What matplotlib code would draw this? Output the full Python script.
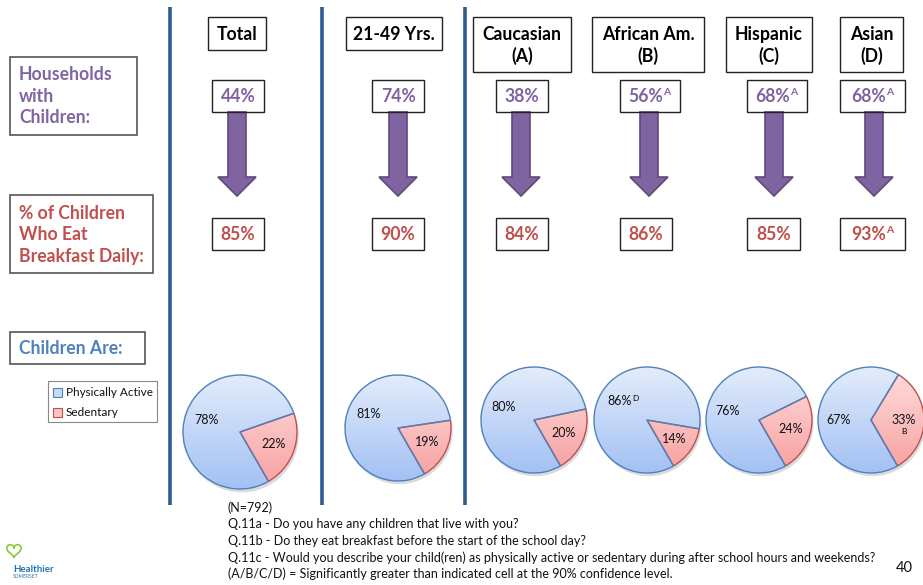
import matplotlib.pyplot as plt
import numpy as np
from matplotlib.patches import Rectangle, Polygon, Circle
from matplotlib.colors import LinearSegmentedColormap

plt.rcParams['font.family'] = ['Lato', 'DejaVu Sans']

# data
groups = ['Total', '21-49 Yrs.', 'Caucasian\n(A)', 'African Am.\n(B)', 'Hispanic\n(C)', 'Asian\n(D)']
households = [44, 74, 38, 56, 68, 68]
households_sig = ['', '', '', 'A', 'A', 'A']
breakfast = [85, 90, 84, 86, 85, 93]
breakfast_sig = ['', '', '', '', '', 'A']
active = [78, 81, 80, 86, 76, 67]
sedentary = [22, 19, 20, 14, 24, 33]
active_sig = ['', '', '', 'D', '', '']
sedentary_sig = ['', '', '', '', '', 'B']
pie_labels = ['Physically Active', 'Sedentary']

# layout (pixels)
head_box = [(208, 266), (346, 442), (473, 571), (592, 704), (726, 812), (840, 903)]
hh_box = [(212, 264), (372, 424), (496, 548), (620, 680), (747, 807), (840, 905)]
bf_box = [(212, 264), (372, 424), (496, 548), (620, 672), (747, 800), (840, 905)]
arrow_x = [237, 398, 521, 649, 774, 874]
pie_c = [(240, 432, 57), (398, 428, 53), (534, 420, 53), (647, 420, 53), (759, 420, 53), (871, 420, 53)]

PURPLE = '#8064A2'
RED = '#C0504D'
BLUE = '#4F81BD'
LINE = '#2F5C8F'
FS = 12.7

fig = plt.figure(figsize=(9.23, 5.85), dpi=100)
ax = fig.add_axes([0, 0, 1, 1])
ax.set_xlim(0, 923)
ax.set_ylim(585, 0)
ax.axis('off')

def box(x0, x1, y0, y1, lw=1.0, ec='#222222'):
    ax.add_patch(Rectangle((x0, y0), x1 - x0, y1 - y0, fill=False, ec=ec, lw=lw, zorder=3))

def boxed_value(x0, x1, y0, y1, txt, sig, color):
    box(x0, x1, y0, y1)
    cx = (x0 + x1) / 2 - (4 if sig else 0)
    t = ax.text(cx, (y0 + y1) / 2 + 1, txt, ha='center', va='center', fontsize=FS,
                fontweight='bold', color=color, zorder=4)
    if sig:
        ax.annotate(sig, xy=(1, 1.05), xycoords=t, ha='left', va='top', fontsize=7.5,
                    fontweight='bold', color=color)

# separators
for x in [170, 322, 465]:
    ax.plot([x, x], [7, 505], color=LINE, lw=2.6, solid_capstyle='butt')

# headers
for g, (x0, x1) in zip(groups, head_box):
    y1 = 72 if '\n' in g else 50
    box(x0, x1, 17, y1)
    ax.text((x0 + x1) / 2, (17 + y1) / 2 + 1, g, ha='center', va='center', fontsize=FS,
            fontweight='bold', color='black', linespacing=1.25)

# row labels
box(10, 137, 57, 135, lw=1.2, ec='#555555')
ax.text(19, 96, 'Households\nwith\nChildren:', ha='left', va='center', fontsize=FS,
        fontweight='bold', color=PURPLE, linespacing=1.3)
box(10, 153, 195, 273, lw=1.2, ec='#555555')
ax.text(19, 235, '% of Children\nWho Eat\nBreakfast Daily:', ha='left', va='center', fontsize=FS,
        fontweight='bold', color=RED, linespacing=1.3)
box(10, 145, 332, 364, lw=1.2, ec='#555555')
ax.text(19, 349, 'Children Are:', ha='left', va='center', fontsize=FS,
        fontweight='bold', color=BLUE)

# value boxes and arrows
for i in range(len(groups)):
    x0, x1 = hh_box[i]
    boxed_value(x0, x1, 80, 112, f'{households[i]}%', households_sig[i], PURPLE)
    x0, x1 = bf_box[i]
    boxed_value(x0, x1, 218, 250, f'{breakfast[i]}%', breakfast_sig[i], RED)
    ax_ = arrow_x[i]
    pts = [(ax_ - 9, 112), (ax_ + 9, 112), (ax_ + 9, 177), (ax_ + 19, 177),
           (ax_, 196), (ax_ - 19, 177), (ax_ - 9, 177)]
    ax.add_patch(Polygon(pts, closed=True, fc=PURPLE, ec='#5F497A', lw=1.2, zorder=2))

# pies
blue_cm = LinearSegmentedColormap.from_list('b', ['#A3C1F4', '#E3ECFB'])
red_cm = LinearSegmentedColormap.from_list('r', ['#F7A0A0', '#FFDEDE'])
grad = np.linspace(0, 1, 200).reshape(-1, 1)
for i, (cx, cy, r) in enumerate(pie_c):
    pad = 1.15
    pax = fig.add_axes([(cx - r * pad) / 923, 1 - (cy + r * pad) / 585,
                        2 * r * pad / 923, 2 * r * pad / 585])
    pax.add_patch(Circle((0.03, -0.06), 1.0, color='#999999', alpha=0.35, lw=0, zorder=0))
    wedges, _, autot = pax.pie([sedentary[i], active[i]], startangle=-60, counterclock=True,
                               autopct='%d%%', pctdistance=0.62,
                               wedgeprops=dict(lw=1.0),
                               textprops=dict(fontsize=9, color='#111111'))
    for w, cm, ec in zip(wedges, [red_cm, blue_cm], [RED, BLUE]):
        im = pax.imshow(grad, extent=[-1, 1, -1, 1], cmap=cm, origin='lower', zorder=1, aspect='auto')
        im.set_clip_path(w)
        w.set_facecolor('none')
        w.set_edgecolor(ec)
        w.set_zorder(2)
    for t in autot:
        t.set_zorder(3)
    if active_sig[i]:
        pax.annotate(active_sig[i], xy=(1, 1.05), xycoords=autot[1], ha='left', va='top', fontsize=6)
    if sedentary_sig[i]:
        pax.annotate(sedentary_sig[i], xy=(0.5, -0.15), xycoords=autot[0], ha='center', va='top', fontsize=6)
    pax.set_xlim(-pad, pad)
    pax.set_ylim(-pad, pad)
    pax.set_aspect('equal')
    pax.axis('off')

# legend
box(48, 157, 381, 422, lw=0.8, ec='#888888')
for (lab, fc, ec, y) in [(pie_labels[0], '#C6D9F7', BLUE, 392), (pie_labels[1], '#FBC4C4', RED, 412)]:
    ax.add_patch(Rectangle((53, y - 4.5), 9, 9, fc=fc, ec=ec, lw=0.8))
    ax.text(66, y, lab, ha='left', va='center', fontsize=8.5, color='#111111')

# footnotes
notes = ['(N=792)',
         'Q.11a - Do you have any children that live with you?',
         'Q.11b - Do they eat breakfast before the start of the school day?',
         'Q.11c - Would you describe your child(ren) as physically active or sedentary during after school hours and weekends?',
         '(A/B/C/D) = Significantly greater than indicated cell at the 90% confidence level.']
for k, n in enumerate(notes):
    ax.text(228, 508 + k * 16.5, n, ha='left', va='center', fontsize=9.0, color='#111111')
ax.text(913, 568, '40', ha='right', va='center', fontsize=10.5, color='#111111')

# logo
th = np.linspace(0, 2 * np.pi, 100)
hx = 16 * np.sin(th) ** 3
hy = 13 * np.cos(th) - 5 * np.cos(2 * th) - 2 * np.cos(3 * th) - np.cos(4 * th)
ax.plot(14 + hx * 0.45, 550 - hy * 0.45, color='#8DC63F', lw=1.2)
ax.text(13, 569, 'Healthier', ha='left', va='center', fontsize=7, fontweight='bold', color='#1B75BB')
ax.text(13, 576, 'SOMERSET', ha='left', va='center', fontsize=3.5, color='#1B75BB')

fig.savefig('out.png', dpi=100)
